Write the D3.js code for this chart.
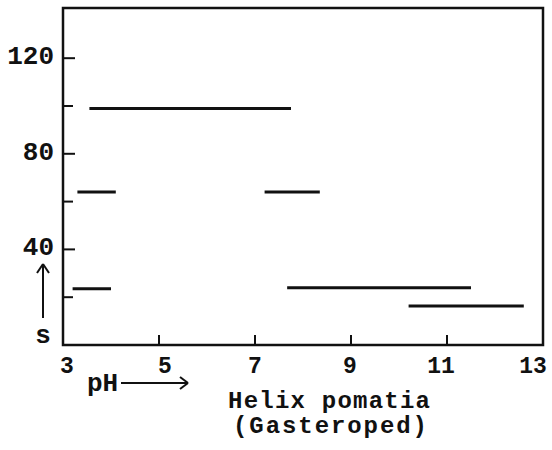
<!DOCTYPE html>
<html>
<head>
<meta charset="utf-8">
<script src="https://cdn.jsdelivr.net/npm/d3@7"></script>
<style>
    body { margin: 0; background: #fff; }
    text { font-family: "Liberation Mono", "DejaVu Sans Mono", monospace; font-weight: bold; fill: #111; }
</style>
</head>
<body>
<svg id="chart" width="552" height="450"></svg>
<script>
// segments: pH range and s value
const phStart = [3.55, 3.3, 7.2, 3.2, 7.67, 10.2];
const phEnd   = [7.75, 4.1, 8.35, 4.0, 11.5, 12.6];
const sValues = [99, 64, 64, 23.5, 24, 16.3];

const xTicks = [3, 5, 7, 9, 11, 13];
const yMajor = [40, 80, 120];
const yMinor = [20, 60, 100];

const svg = d3.select("#chart");
const plotLeft = 63, plotRight = 543, plotTop = 8, plotBottom = 345;
const ink = "#111";

const x = d3.scaleLinear().domain([3, 13]).range([plotLeft, plotRight]);
const y = d3.scaleLinear().domain([0, 141]).range([plotBottom, plotTop]);

// frame
svg.append("rect")
    .attr("x", plotLeft).attr("y", plotTop)
    .attr("width", plotRight - plotLeft).attr("height", plotBottom - plotTop)
    .attr("fill", "none").attr("stroke", ink).attr("stroke-width", 2.5);

// y ticks (inside)
svg.selectAll(".ymaj").data(yMajor).enter().append("line")
    .attr("x1", plotLeft).attr("x2", plotLeft + 12)
    .attr("y1", d => y(d)).attr("y2", d => y(d))
    .attr("stroke", ink).attr("stroke-width", 2);
svg.selectAll(".ymin").data(yMinor).enter().append("line")
    .attr("x1", plotLeft).attr("x2", plotLeft + 10)
    .attr("y1", d => y(d)).attr("y2", d => y(d))
    .attr("stroke", ink).attr("stroke-width", 2);
svg.selectAll(".ylab").data(yMajor).enter().append("text")
    .attr("x", 54).attr("y", d => y(d) + 6)
    .attr("text-anchor", "end")
    .attr("font-size", 26)
    .text(d => d);

// x ticks (inside, skip the ends)
svg.selectAll(".xt").data(xTicks.slice(1, -1)).enter().append("line")
    .attr("x1", d => x(d)).attr("x2", d => x(d))
    .attr("y1", plotBottom).attr("y2", plotBottom - 10)
    .attr("stroke", ink).attr("stroke-width", 2);
// labels nudged like the typed original; last one pulled left to stay on the page
svg.selectAll(".xlab").data(xTicks).enter().append("text")
    .attr("x", (d, i) => x(d) + [4, 6, 0, -1, -6, -10][i]).attr("y", 373)
    .attr("text-anchor", "middle")
    .attr("font-size", 23)
    .text(d => d);

// data segments
svg.selectAll(".seg").data(sValues).enter().append("line")
    .attr("x1", (d, i) => x(phStart[i])).attr("x2", (d, i) => x(phEnd[i]))
    .attr("y1", d => y(d)).attr("y2", d => y(d))
    .attr("stroke", ink).attr("stroke-width", 3);

// axis titles with arrows
const arrow = (x1, y1, x2, y2) => {
    svg.append("line").attr("x1", x1).attr("y1", y1).attr("x2", x2).attr("y2", y2)
        .attr("stroke", ink).attr("stroke-width", 2);
};
// s with up arrow
arrow(43, 318, 43, 264);
arrow(43, 264, 37, 273);
arrow(43, 264, 49, 273);
svg.append("text").attr("x", 43).attr("y", 343).attr("text-anchor", "middle")
    .attr("font-size", 26).text("s");

// pH with right arrow
svg.append("text").attr("x", 87).attr("y", 391).attr("font-size", 26).text("pH");
arrow(121, 383, 187, 383);
arrow(188, 383, 180, 377);
arrow(188, 383, 180, 389);

svg.append("text").attr("x", 329).attr("y", 408).attr("text-anchor", "middle")
    .attr("font-size", 24).attr("textLength", 202).text("Helix pomatia");
svg.append("text").attr("x", 330).attr("y", 433).attr("text-anchor", "middle")
    .attr("font-size", 24).attr("textLength", 194).text("(Gasteroped)");
</script>
</body>
</html>
